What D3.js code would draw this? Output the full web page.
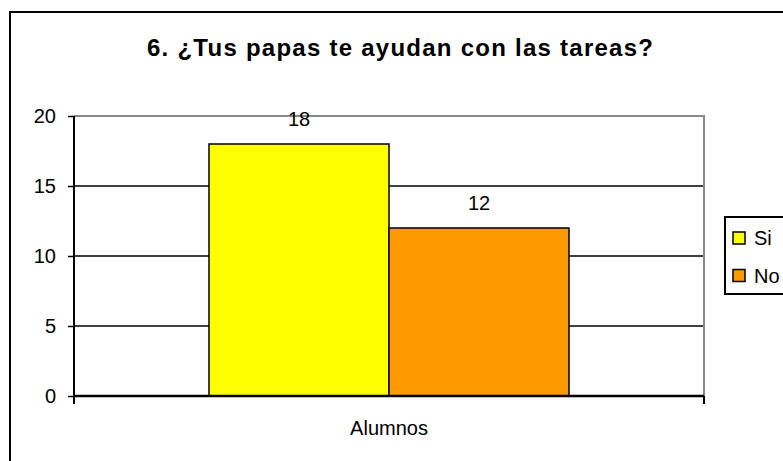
<!DOCTYPE html>
<html>
<head>
<meta charset="utf-8">
<script src="https://cdn.jsdelivr.net/npm/d3@7"></script>
<style>
  html, body { margin: 0; padding: 0; background: #fff; overflow: hidden; }
  svg { display: block; }
</style>
</head>
<body>
<svg id="chart" width="783" height="461"></svg>
<script>
const title = "6. ¿Tus papas te ayudan con las tareas?";
const categories = ["Alumnos"];
const series = ["Si", "No"];
const values = [[18, 12]]; // one row per category, one column per series
const colors = ["#ffff00", "#ff9900"];
const yTicks = [0, 5, 10, 15, 20];

const svg = d3.select("#chart");
const width = 783, height = 461;
const font = "Liberation Sans, Arial, sans-serif";
const fontSize = 20;

svg.attr("font-family", font);

// outer chart frame: only its left and top edges fall inside the picture
svg.append("path")
  .attr("d", `M10,${height}V12H${width}`)
  .attr("fill", "none")
  .attr("stroke", "#000").attr("stroke-width", 2);

svg.append("text")
  .attr("x", 400).attr("y", 56)
  .attr("text-anchor", "middle")
  .attr("font-family", font)
  .attr("font-size", 24).attr("font-weight", "bold")
  .attr("textLength", 506).attr("lengthAdjust", "spacing")
  .text(title);

const margin = { top: 116, left: 74 };
const innerWidth = 630, innerHeight = 280;

const x0 = d3.scaleBand()
  .domain(categories)
  .range([0, innerWidth])
  .paddingInner(0)
  .paddingOuter(0.375);

const x1 = d3.scaleBand()
  .domain(series)
  .range([0, x0.bandwidth()]);

const y = d3.scaleLinear()
  .domain([0, 20])
  .range([innerHeight, 0]);

const g = svg.append("g")
  .attr("transform", `translate(${margin.left},${margin.top})`);

// gridlines
g.selectAll(".grid")
  .data(yTicks.filter(d => d > 0 && d < 20))
  .join("line")
  .attr("x1", 0).attr("x2", innerWidth)
  .attr("y1", d => y(d)).attr("y2", d => y(d))
  .attr("stroke", "#000").attr("stroke-width", 1.5);

// plot area border (grey top and right)
g.append("path")
  .attr("d", `M0,${y(20)}H${innerWidth}V${innerHeight}`)
  .attr("fill", "none")
  .attr("stroke", "#888").attr("stroke-width", 2);

// bars
const groups = g.selectAll(".cat")
  .data(categories)
  .join("g")
  .attr("transform", d => `translate(${x0(d)},0)`);

groups.selectAll("rect")
  .data((c, ci) => series.map((s, si) => ({ s, si, v: values[ci][si] })))
  .join("rect")
  .attr("x", d => x1(d.s))
  .attr("y", d => y(d.v))
  .attr("width", x1.bandwidth())
  .attr("height", d => innerHeight - y(d.v))
  .attr("fill", d => colors[d.si])
  .attr("stroke", "#000").attr("stroke-width", 1.5);

groups.selectAll(".lbl")
  .data((c, ci) => series.map((s, si) => ({ s, v: values[ci][si] })))
  .join("text")
  .attr("x", d => x1(d.s) + x1.bandwidth() / 2)
  .attr("y", d => y(d.v) - 18)
  .attr("text-anchor", "middle")
  .attr("font-family", font)
  .attr("font-size", fontSize)
  .text(d => d.v);

// y axis
const yAxis = g.append("g")
  .call(d3.axisLeft(y).tickValues(yTicks).tickSize(6).tickPadding(12));
yAxis.select(".domain").attr("stroke", "#000").attr("stroke-width", 2)
  .attr("d", `M0,${y(20)}V${innerHeight}`);
yAxis.selectAll(".tick line").attr("stroke", "#000").attr("stroke-width", 1.5);
yAxis.selectAll(".tick text").attr("font-size", fontSize).attr("fill", "#000")
  .attr("font-family", font);

// x axis
const xAxis = g.append("g")
  .attr("transform", `translate(0,${innerHeight})`);
xAxis.append("line")
  .attr("x1", 0).attr("x2", innerWidth)
  .attr("stroke", "#000").attr("stroke-width", 2.5);
xAxis.selectAll(".edge")
  .data([0, innerWidth])
  .join("line")
  .attr("x1", d => d).attr("x2", d => d)
  .attr("y1", 0).attr("y2", 8)
  .attr("stroke", "#000").attr("stroke-width", 2);
xAxis.selectAll(".cat-label")
  .data(categories)
  .join("text")
  .attr("x", d => x0(d) + x0.bandwidth() / 2)
  .attr("y", 39)
  .attr("text-anchor", "middle")
  .attr("font-family", font)
  .attr("font-size", fontSize)
  .text(d => d);

// legend box, its right edge is cut by the picture border
const legend = svg.append("g").attr("transform", "translate(725,217)");
legend.append("path")
  .attr("d", `M${width - 725},0H0V77H${width - 725}`)
  .attr("fill", "#fff")
  .attr("stroke", "#000").attr("stroke-width", 2);
const items = legend.selectAll(".item")
  .data(series)
  .join("g")
  .attr("transform", (d, i) => `translate(8,${15 + i * 37.5})`);
items.append("rect")
  .attr("width", 12).attr("height", 12)
  .attr("fill", (d, i) => colors[i])
  .attr("stroke", "#000").attr("stroke-width", 1.5);
items.append("text")
  .attr("x", 21).attr("y", 13)
  .attr("font-family", font)
  .attr("font-size", fontSize)
  .text(d => d);
</script>
</body>
</html>
